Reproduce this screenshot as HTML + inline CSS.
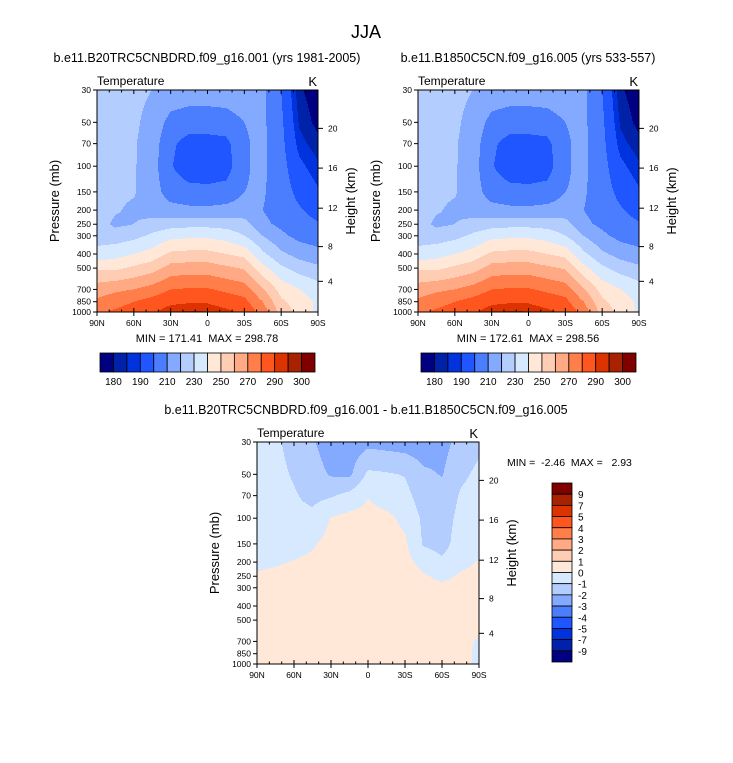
<!DOCTYPE html>
<html><head><meta charset="utf-8">
<style>
html,body{margin:0;padding:0;background:#fff;}
svg text{font-family:"Liberation Sans",sans-serif;fill:#000;white-space:pre;}
</style></head>
<body>
<svg id="fig" width="733" height="758" viewBox="0 0 733 758" xmlns="http://www.w3.org/2000/svg">
<text x="366" y="38" font-size="18" text-anchor="middle">JJA</text>
</svg>
<script>
// ---- data ----
const lats = [90,75,60,45,30,15,0,-15,-30,-45,-60,-75,-90];
const plevs = [30,50,70,100,150,200,250,300,400,500,700,850,1000];
const pTicks = [30,50,70,100,150,200,250,300,400,500,700,850,1000];
const hTickKm = [4,8,12,16,20];
const hTickP = [616,356,194,103,55];
const latTicks = [90,60,30,0,-30,-60,-90];
const latTickLabels = ["90N","60N","30N","0","30S","60S","90S"];
const tLevels = [180,185,190,200,210,220,230,240,250,260,270,280,290,295,300];
const tLabelIdx = [0,2,4,6,8,10,12,14];
const dLevels = [-9,-7,-5,-4,-3,-2,-1,0,1,2,3,4,5,7,9];
const colors = ["#000080","#0022a8","#0033dd","#1f56ff","#4a7eff","#84aaff","#b4cdff","#d7e9ff","#ffe8d7","#ffcdb4","#ffaa84","#ff7e4a","#ff561f","#dd3300","#a82200","#800000"];
// temperature fields: rows = latitude (90N..90S), cols = pressure (30..1000)
const temp1 = [
[225,225,225,225,225,225,225,226,233,249,265,272,278],
[226,225,224,223,222,221,218,225,236,248,268,276,282],
[223,222,221,221,221,218,220,227,240,252,270,280,285],
[220,216,215,214,214,215,224,232,244,256,274,284,289],
[216,207,202,201,206,213,226,237,252,264,280,288,294],
[215,205,196,193,204,212,227,238,253,265,281,289,296],
[215,205,196,193,203,212,227,238,253,265,281,289,295],
[215,206,197,195,204,213,226,236,250,262,278,286,292],
[216,210,209,209,210,214,224,230,247,259,275,283,288],
[212,212,212,212,211,210,212,220,232,243,261,270,276],
[200,202,203,204,205,206,208,212,222,232,246,252,256],
[181,184,187,192,197,201,204,207,216,226,240,245,247],
[176,178,182,186,191,196,201,205,213,222,235,238,238]];
const temp2 = [
[225,225,225,225,225,225,225,226,233,249,265,272,278],
[226,225,224,223,222,221,218,225,236,248,268,276,282],
[223,222,221,221,221,218,220,227,240,252,270,280,285],
[220,216,215,214,214,215,224,232,244,256,274,284,289],
[216,207,202,201,206,213,226,237,252,264,280,288,294],
[215,205,196,193,204,212,227,238,253,265,281,289,296],
[215,205,196,193,203,212,227,238,253,265,281,289,295],
[215,206,197,195,204,213,226,236,250,262,278,286,292],
[216,210,209,209,210,214,224,230,247,259,275,283,288],
[212,212,212,212,211,210,212,220,232,243,261,270,276],
[200,202,203,204,205,206,208,212,222,232,246,252,256],
[181,184,187,192,197,201,204,207,216,226,240,245,247],
[176,178,182,186,191,196,201,205,213,222,235,238,238]];
const diff = [
[-0.5,-0.5,-0.5,-0.5,-0.4,-0.2,0.1,0.3,0.4,0.4,0.4,0.4,0.4],
[-0.8,-0.7,-0.6,-0.5,-0.4,-0.1,0.2,0.3,0.4,0.4,0.4,0.4,0.4],
[-1.4,-1.1,-0.9,-0.7,-0.4,0.05,0.3,0.4,0.4,0.4,0.4,0.4,0.4],
[-1.9,-1.6,-1.3,-0.7,-0.1,0.2,0.3,0.4,0.4,0.4,0.4,0.4,0.4],
[-2.5,-2.1,-1.1,0.05,0.3,0.4,0.4,0.4,0.4,0.4,0.4,0.4,0.4],
[-2.6,-2.2,-0.7,0.3,0.5,0.5,0.4,0.4,0.4,0.4,0.4,0.4,0.4],
[-2.3,-0.8,-0.05,0.3,0.4,0.4,0.4,0.4,0.4,0.4,0.4,0.4,0.4],
[-2.4,-0.9,-0.4,0.2,0.3,0.4,0.4,0.4,0.4,0.4,0.4,0.4,0.4],
[-2.5,-1.05,-0.7,-0.2,0.15,0.3,0.4,0.4,0.4,0.4,0.4,0.4,0.4],
[-2.6,-1.8,-1.5,-1.2,-1.1,-0.3,0.1,0.3,0.4,0.4,0.4,0.4,0.4],
[-2.4,-2.05,-1.7,-1.5,-1.4,-0.8,-0.2,0.2,0.4,0.4,0.4,0.5,1.1],
[-1.6,-1.2,-0.9,-0.7,-0.5,-0.2,0.1,0.3,0.4,0.4,0.3,0.3,0.3],
[-1.2,-0.8,-0.6,-0.5,-0.4,0.05,0.2,0.3,0.4,0.3,-0.1,-0.2,-0.2]];

const NS="http://www.w3.org/2000/svg";
const svg=document.getElementById('fig');
function mk(tag,attrs,parent){const e=document.createElementNS(NS,tag);for(const k in attrs)e.setAttribute(k,attrs[k]);(parent||svg).appendChild(e);return e;}
function txt(s,x,y,size,anchor,parent){const t=mk('text',{x:x,y:y,'font-size':size,'text-anchor':anchor||'start'},parent);t.textContent=s;return t;}
const LP0=Math.log10(30),LPR=Math.log10(1000/30);
function colorIdx(v,levels){let i=0;while(i<levels.length&&v>=levels[i])i++;return i;}
function sample(data,latF,lp){
  let i0=Math.min(Math.floor(latF),lats.length-2);const fx=latF-i0;
  const lps=plevs.map(p=>Math.log10(p));
  let j0=0;while(j0<lps.length-2&&lp>lps[j0+1])j0++;
  const fy=Math.max(0,Math.min(1,(lp-lps[j0])/(lps[j0+1]-lps[j0])));
  const a=data[i0][j0],b=data[i0+1][j0],c=data[i0][j0+1],d=data[i0+1][j0+1];
  return (a*(1-fx)+b*fx)*(1-fy)+(c*(1-fx)+d*fx)*fy;
}
function panel(name,ox,oy,w,h,data,levels){
  const g=mk('g',{});
  
  
  const xOf=lat=>ox+(90-lat)/180*w;
  const yOf=p=>oy+(Math.log10(p)-LP0)/LPR*h;
  const fill=mk('g',{},g);
  
  
  for(let r=0;r<h;r++){
    const lp=LP0+(r+0.5)/h*LPR;
    let start=0,cur=-1;
    for(let c=0;c<=w;c++){
      let idx=-2;
      if(c<w){const latF=(c+0.5)/w*(lats.length-1);idx=colorIdx(sample(data,latF,lp),levels);}
      if(idx!==cur){
        if(cur>=0){const rc=mk('rect',{x:ox+start,y:oy+r,width:c-start,height:1.05,fill:colors[cur]},fill);
          
          }
        start=c;cur=idx;
      }
    }
  }
  const frame=mk('rect',{x:ox,y:oy,width:w,height:h,fill:'none',stroke:'#000','stroke-width':1},g);
  
  
  pTicks.forEach(p=>{const y=yOf(p);
    mk('line',{x1:ox-4,x2:ox,y1:y,y2:y,stroke:'#000'},g);
    const t=txt(String(p),ox-6,y+3,8.5,'end',g);
    
    });
  hTickKm.forEach((km,i)=>{const y=yOf(hTickP[i]);
    mk('line',{x1:ox+w,x2:ox+w+5,y1:y,y2:y,stroke:'#000'},g);
    const t=txt(String(km),ox+w+10,y+3,8.5,'start',g);
    
    });
  for(let lat=90;lat>=-90;lat-=10){const x=xOf(lat);const major=lat%30===0;
    mk('line',{x1:x,x2:x,y1:oy+h,y2:oy+h+(major?4:0),stroke:'#000'},g);
    mk('line',{x1:x,x2:x,y1:oy+h,y2:oy+h-(major?4:2.5),stroke:'#000'},g);
    mk('line',{x1:x,x2:x,y1:oy,y2:oy+(major?4:2.5),stroke:'#000'},g);}
  latTicks.forEach((lat,i)=>{const t=txt(latTickLabels[i],xOf(lat),oy+h+14,8.5,'middle',g);
    
    });
  const yl=txt('Pressure (mb)',0,0,13,'middle',g);
  yl.setAttribute('transform',`translate(${ox-38},${oy+h/2}) rotate(-90)`);
  
  
  const hl=txt('Height (km)',0,0,13,'middle',g);
  hl.setAttribute('transform',`translate(${ox+w+37},${oy+h/2}) rotate(-90)`);
  
  
  const tt=txt('Temperature',ox,oy-5,12,'start',g);
  
  
  const kk=txt('K',ox+w-1,oy-4,13,'end',g);
  
  
  return g;
}
function hbar(name,x0,y0,w,h){
  const g=mk('g',{});
  
  
  const bw=w/colors.length;
  colors.forEach((c,i)=>{const r=mk('rect',{x:x0+i*bw,y:y0,width:bw,height:h,fill:c,stroke:'#000','stroke-width':0.8},g);
    
    });
  tLabelIdx.forEach(i=>{const t=txt(String(tLevels[i]),x0+(i+1)*bw,y0+h+13,10,'middle',g);
    
    });
}
function vbar(name,x0,y0,w,h){
  const g=mk('g',{});
  
  
  const bh=h/colors.length;
  for(let k=0;k<colors.length;k++){const ci=colors.length-1-k;
    const r=mk('rect',{x:x0,y:y0+k*bh,width:w,height:bh,fill:colors[ci],stroke:'#000','stroke-width':0.8},g);
    
    }
  for(let k=1;k<colors.length;k++){const v=dLevels[dLevels.length-k];
    const t=txt(String(v),x0+w+6,y0+k*bh+4,10,'start',g);
    
    }
}
let t;
t=txt('b.e11.B20TRC5CNBDRD.f09_g16.001 (yrs 1981-2005)',207,62,12.5,'middle');


panel('panel1-contour',97,90,221,222,temp1,tLevels);
t=txt('MIN = 171.41  MAX = 298.78',207,342,11,'middle');


hbar('panel1-colorbar',100,353,215,19);
t=txt('b.e11.B1850C5CN.f09_g16.005 (yrs 533-557)',528,62,12.5,'middle');


panel('panel2-contour',418,90,221,222,temp2,tLevels);
t=txt('MIN = 172.61  MAX = 298.56',528,342,11,'middle');


hbar('panel2-colorbar',421,353,215,19);
t=txt('b.e11.B20TRC5CNBDRD.f09_g16.001 - b.e11.B1850C5CN.f09_g16.005',366,414,12.5,'middle');


panel('difference-contour',257,442,222,222,diff,dLevels);
t=txt('MIN =  -2.46  MAX =   2.93',507,466,10.5,'start');


vbar('difference-colorbar',552,483,20,179);
</script>
</body></html>
